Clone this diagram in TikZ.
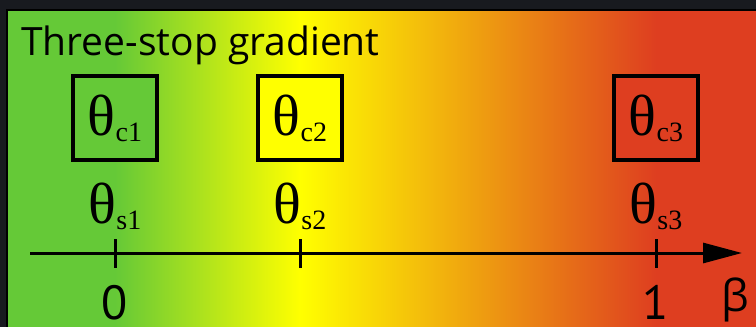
\documentclass[tikz,border=0pt]{standalone}
\usepackage{fontspec}
\usetikzlibrary{positioning,arrows.meta}
\newfontfamily\thfont{Liberation Serif}
\newfontfamily\sansfam{PT Sans}
\newfontfamily\greeksans{Open Sans}
\definecolor{stopgreen}{RGB}{101,201,55}
\definecolor{stopyellow}{RGB}{255,255,0}
\definecolor{stopred}{RGB}{222,62,32}
\definecolor{framedark}{RGB}{24,26,31}
\newcommand{\thsub}[1]{{\fontsize{58pt}{60pt}\thfont θ\raisebox{-6pt}{\fontsize{28pt}{30pt}\selectfont #1}}}
\tikzset{
  stopbox/.style ={draw=black, line width=4pt, minimum width=84pt,
                   minimum height=84pt, inner sep=0pt},
  title/.style   ={font=\fontsize{39pt}{42pt}\greeksans, inner sep=0pt, anchor=base west},
  thlab/.style   ={inner sep=0pt, anchor=base},
  numlab/.style  ={font=\fontsize{48pt}{50pt}\sansfam, inner sep=0pt, anchor=base},
  axisline/.style={line width=3pt, -{Triangle[length=39pt,width=20pt]}},
  tick/.style    ={line width=3pt},
}

\begin{document}
\begin{tikzpicture}[x=1pt,y=-1pt]
  \useasboundingbox (0,0) rectangle (756,327);

  % ---- frame and three-stop band ---------------------------------------
  \fill[framedark] (0,0) rectangle (756,327);
  \fill[stopgreen] (8,11) rectangle (115.5,327);
  \shade[left color=stopgreen, right color=stopyellow] (115,11) rectangle (300.5,327);
  \shade[left color=stopyellow, right color=stopred] (300,11) rectangle (656.5,327);
  \fill[stopred] (656,11) rectangle (756,327);
  \draw[black, line width=2pt] (7,327) |- (756,10);

  \node[title] (head) at (21,55) {Three-stop gradient};

  % ---- stop colours ----------------------------------------------------
  \node[stopbox, fill=stopgreen]  (c1) at (115,118) {\thsub{c1}};
  \node[stopbox, fill=stopyellow] (c2) at (300,118) {\thsub{c2}};
  \node[stopbox, fill=stopred]    (c3) at (656,118) {\thsub{c3}};

  % ---- beta axis -------------------------------------------------------
  \coordinate (axL) at (30,253);
  \coordinate (axR) at (742,253);
  \draw[axisline] (axL) -- (axR);

  \foreach \name/\x in {s1/115, s2/300, s3/656} {
    \coordinate (\name top) at (\x,239);
    \coordinate (\name bot) at (\x,268);
    \draw[tick] (\name top) -- (\name bot);
    \node[thlab] (\name) at (\x,223) {\thsub{\name}};
  }

  \node[numlab] (zero) at (115,319) {0};
  \node[numlab] (one)  at (656,319) {1};
  \node[inner sep=0pt, anchor=base, font=\fontsize{44pt}{46pt}\greeksans] (beta) at (735,311) {β};
\end{tikzpicture}
\end{document}
